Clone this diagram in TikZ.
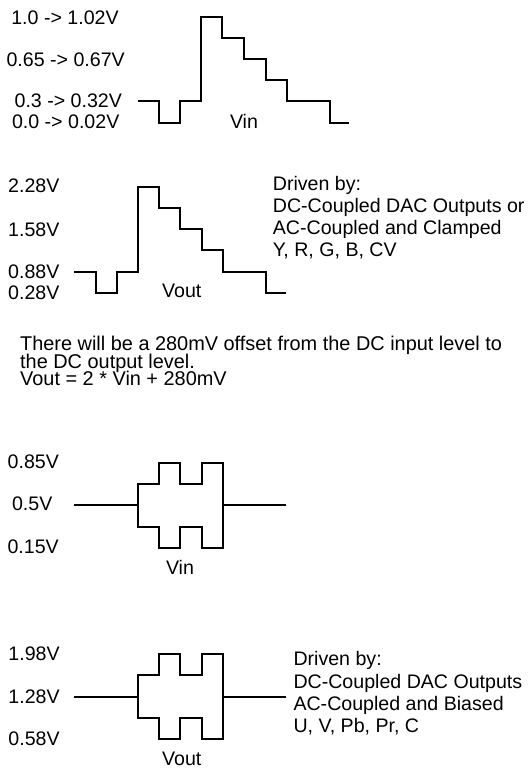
\documentclass[tikz,border=0pt]{standalone}
\usepackage{fontspec}
\setmainfont{Liberation Sans}
\begin{document}
\begin{tikzpicture}[x=1pt,y=-1pt,
  lbl/.style={inner sep=0pt, font=\fontsize{19.6}{22}\selectfont},
  para/.style={inner sep=0pt, align=left, font={\fontsize{19.9}{17.3}\selectfont\lineskiplimit=-30pt\lineskip=0pt}},
  wave/.style={line width=2.2pt, line join=miter}]
\useasboundingbox (0,0) rectangle (531,769);

% ---------- Section 1: Vin staircase ----------
\draw[wave] (138.3,101.3) -| (159.3,123.3) -| (180.3,101.3) -| (201,17.3) -| (222.3,38.3) -| (244.3,59.3) -| (265.7,80.3) -| (286.7,101.3) -| (330,123.3) -- (349.3,123.3);
\node[lbl, anchor=base] (l1a) at (65,24) {1.0 -> 1.02V};
\node[lbl, anchor=base] (l1b) at (65.7,66.7) {0.65 -> 0.67V};
\node[lbl, anchor=base] (l1c) at (68.3,107.7) {0.3 -> 0.32V};
\node[lbl, anchor=base] (l1d) at (65.7,128) {0.0 -> 0.02V};
\node[lbl, anchor=base] (vin1) at (244,128) {Vin};

% ---------- Section 2: Vout staircase ----------
\draw[wave] (74,272.3) -| (95.7,293.3) -| (116.7,272.3) -| (137.7,186.7) -| (158.7,208.3) -| (180.3,229.3) -| (201.7,250.3) -| (222.7,272.3) -| (265.7,293.3) -- (286,293.3);
\node[lbl, anchor=base west] (l2a) at (8,192.5) {2.28V};
\node[lbl, anchor=base west] (l2b) at (8,236) {1.58V};
\node[lbl, anchor=base west] (l2c) at (8,278.3) {0.88V};
\node[lbl, anchor=base west] (l2d) at (8,299.3) {0.28V};
\node[lbl, anchor=base] (vout1) at (181.8,297.5) {Vout};
\node[lbl, anchor=base west] (d1a) at (272.7,190.7) {Driven by:};
\node[lbl, anchor=base west] (d1b) at (272.7,212.7) {DC-Coupled DAC Outputs or};
\node[lbl, anchor=base west] (d1c) at (272.7,234.7) {AC-Coupled and Clamped};
\node[lbl, anchor=base west] (d1d) at (272.7,256.7) {Y, R, G, B, CV};

% ---------- Paragraph ----------
\node[para, anchor=base west] (para) at (20,385.3) {There will be a 280mV offset from the DC input level to\\the DC output level.\\Vout = 2 * Vin + 280mV};

% ---------- Section 3: Vin bipolar ----------
\draw[wave] (74,505) -- (137.7,505);
\draw[wave] (137.7,484) -| (159.3,462.7) -| (180.3,484) -| (201.7,462.7) -| (222.7,548.3) -| (201.7,526.7) -| (180.3,548.3) -| (159.3,526.7) -| (137.7,484) -- cycle;
\draw[wave] (222.7,505) -- (286,505);
\node[lbl, anchor=base] (l3a) at (33.3,468.3) {0.85V};
\node[lbl, anchor=base] (l3b) at (32.2,510.7) {0.5V};
\node[lbl, anchor=base] (l3c) at (33.2,553.3) {0.15V};
\node[lbl, anchor=base] (vin2) at (180,574) {Vin};

% ---------- Section 4: Vout bipolar ----------
\draw[wave] (74,696.7) -- (137.7,696.7);
\draw[wave] (137.7,675.3) -| (159.3,654) -| (180.3,675.3) -| (201.7,654) -| (222.7,739) -| (201.7,717.7) -| (180.3,739) -| (159.3,717.7) -| (137.7,675.3) -- cycle;
\draw[wave] (222.7,696.7) -- (286,696.7);
\node[lbl, anchor=base west] (l4a) at (8.3,660) {1.98V};
\node[lbl, anchor=base west] (l4b) at (8.3,703.3) {1.28V};
\node[lbl, anchor=base west] (l4c) at (8.3,745) {0.58V};
\node[lbl, anchor=base] (vout2) at (181.8,765) {Vout};
\node[lbl, anchor=base west] (d2a) at (293.3,665.7) {Driven by:};
\node[lbl, anchor=base west] (d2b) at (293.3,688) {DC-Coupled DAC Outputs};
\node[lbl, anchor=base west] (d2c) at (293.3,710.3) {AC-Coupled and Biased};
\node[lbl, anchor=base west] (d2d) at (293.3,732.6) {U, V, Pb, Pr, C};
\end{tikzpicture}
\end{document}
